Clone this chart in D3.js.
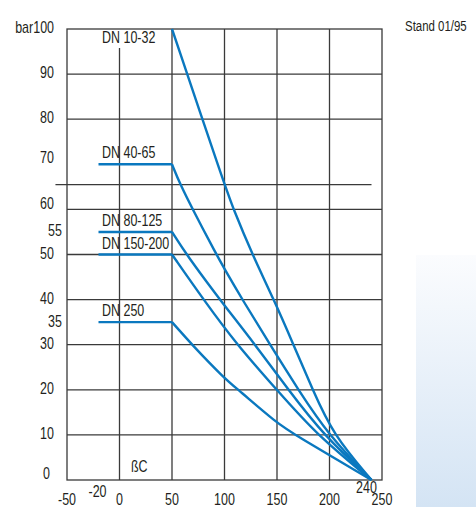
<!DOCTYPE html>
<html>
<head>
<meta charset="utf-8">
<script src="https://cdn.jsdelivr.net/npm/d3@7"></script>
<style>
  html, body { margin: 0; padding: 0; background: #fff; }
  svg { display: block; }
  text {
    font-family: "Liberation Sans", Arial, sans-serif;
    font-size: 15.8px;
    fill: #231f20;
  }
</style>
</head>
<body>
<svg id="chart" width="476" height="507"></svg>
<script>
// Pressure rating (bar) against temperature (°C) per nominal size
const seriesNames = ["DN 10-32", "DN 40-65", "DN 80-125", "DN 150-200", "DN 250"];
const dn10_32   = [[50, 100], [100, 65.5], [108.6, 60], [126.5, 50], [147, 40], [165.7, 30], [184, 20], [203.5, 10], [240, 0]];
const dn40_65   = [[-20, 70], [50, 70], [57.9, 65.5], [69.7, 60], [92.3, 50], [100, 46.8], [117, 40], [143.4, 30], [170.3, 20], [199, 10], [240, 0]];
const dn80_125  = [[-20, 55], [50, 55], [63.6, 50], [95.6, 40], [100, 38.7], [129.2, 30], [160.8, 20], [194.1, 10], [240, 0]];
const dn150_200 = [[-20, 50], [50, 50], [80, 40], [111.8, 30], [149.8, 20], [187.8, 10], [240, 0]];
const dn250     = [[-20, 35], [50, 35], [69, 30], [100, 22.5], [113.3, 20], [150, 12.6], [167.2, 10], [240, 0]];
const seriesValues = [dn10_32, dn40_65, dn80_125, dn150_200, dn250];

// Axis ticks and reference lines
const xTicks = [-50, 0, 50, 100, 150, 200, 250];
const xExtraTicks = [-20, 240];
const yTicks = [0, 10, 20, 30, 40, 50, 60, 70, 80, 90, 100];
const yExtraTicks = [35, 55];
const xGrid = [0, 50, 100, 150, 200];
const yGrid = [10, 20, 30, 40, 50, 60, 80, 90];
const refLine = { p: 65.5, from: -61, to: 240 };
const xUnit = "ßC";
const yUnit = "bar";
const stamp = "Stand 01/95";

const svg = d3.select("#chart");
const x = d3.scaleLinear().domain([-50, 250]).range([67, 382]);
const y = d3.scaleLinear().domain([0, 100]).range([480, 29]);

// Narrow lettering: regular sans squeezed horizontally
const NARROW = 0.79;
function label(px, py, str, anchor, size) {
  const t = svg.append("text")
    .attr("transform", `translate(${px},${py}) scale(${NARROW},1)`)
    .attr("text-anchor", anchor || "start")
    .text(str);
  if (size) t.style("font-size", size + "px");
  return t;
}

// Decorative side panel with a soft blue gradient
const defs = svg.append("defs");
const grad = defs.append("linearGradient").attr("id", "panelGrad")
  .attr("x1", 0).attr("y1", 0).attr("x2", 0).attr("y2", 1);
grad.append("stop").attr("offset", "0%").attr("stop-color", "#fbfcfe");
grad.append("stop").attr("offset", "100%").attr("stop-color", "#d4e4f4");
svg.append("rect").attr("x", 416).attr("y", 255).attr("width", 60).attr("height", 252)
  .attr("fill", "url(#panelGrad)");

const grid = svg.append("g").attr("stroke", "#3a3a3a").attr("stroke-width", 1.3).attr("fill", "none");

// Horizontal grid
yGrid.forEach(v => {
  grid.append("line").attr("x1", x(-50)).attr("x2", x(250)).attr("y1", y(v)).attr("y2", y(v));
});
// Vertical grid (the 0 °C line stops below the top label)
xGrid.forEach(v => {
  grid.append("line").attr("x1", x(v)).attr("x2", x(v))
    .attr("y1", y(v === 0 ? 95.8 : 100)).attr("y2", y(0));
});
// Reference line
grid.append("line").attr("x1", x(refLine.from)).attr("x2", x(refLine.to))
  .attr("y1", y(refLine.p)).attr("y2", y(refLine.p));
// Frame
grid.append("rect").attr("x", x(-50)).attr("y", y(100))
  .attr("width", x(250) - x(-50)).attr("height", y(0) - y(100));

// Curves: flat segment up to 50 °C, then a smooth descent to 0 bar
const flatLine = d3.line().x(d => x(d[0])).y(d => y(d[1]));
const descLine = d3.line().x(d => x(d[0])).y(d => y(d[1])).curve(d3.curveBasis);
const curves = svg.append("g").attr("fill", "none").attr("stroke", "#0a78bf")
  .attr("stroke-width", 2.4).attr("stroke-linejoin", "miter");
seriesValues.forEach(pts => {
  const flat = pts.filter(d => d[0] <= 50);
  const desc = pts.filter(d => d[0] >= 50);
  if (flat.length > 1) curves.append("path").attr("d", flatLine(flat));
  curves.append("path").attr("d", descLine(desc));
});

// Series labels
const labelOffsets = [14, -6.5, -6, -5.5, -6.5];
seriesNames.forEach((name, i) => {
  const start = seriesValues[i][0];
  label(x(-20) + 3.5, y(start[1]) + labelOffsets[i], name);
});

// Y tick labels
const yNudge = { 0: -5, 60: -4, 70: -5, 100: 0 };
yTicks.forEach(v => {
  label(v === 0 ? 50 : 54, y(v) + 4 + (yNudge[v] || 0), v === 100 ? yUnit + v : v, "end");
});
yExtraTicks.forEach(v => {
  label(62, y(v) + 4.5, v, "end");
});

// X tick labels
xTicks.forEach(v => {
  label(x(v), 505, v, "middle");
});
xExtraTicks.forEach(v => {
  label(x(v) - (v === 240 ? 5 : 1), v === 240 ? 493 : 497, v, "middle");
});
label(131, 472, xUnit);

label(405, 30.5, stamp, "start", 14.5);
</script>
</body>
</html>
